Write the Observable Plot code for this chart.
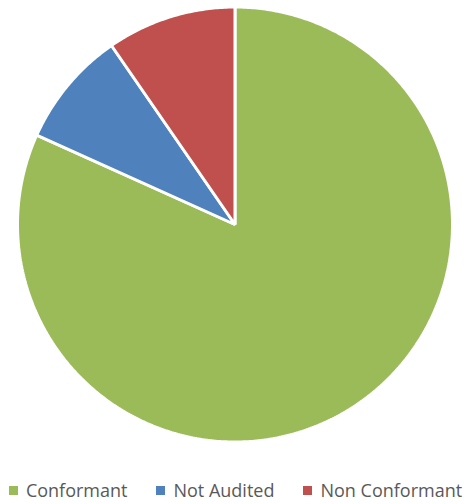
<!DOCTYPE html>
<html>
<head>
<meta charset="utf-8">
<script src="https://cdn.jsdelivr.net/npm/d3@7"></script>
<script src="https://cdn.jsdelivr.net/npm/@observablehq/plot@0.6"></script>
<style>
  html, body { margin: 0; padding: 0; background: #fff; }
  #chart > svg { display: block; }
  #chart > div {
    font-family: "Open Sans", sans-serif !important; font-size: 18px !important; color: #595959 !important;
    display: flex !important; align-items: center !important; justify-content: center !important;
    margin: 0 !important; min-height: 28px !important; height: 28px !important;
  }
  #chart > div > span { margin-right: 29px !important; display: inline-flex; align-items: center; }
  #chart > div > span:last-child { margin-right: 0 !important; }
  #chart > div > span > svg { margin-right: 8px !important; }
</style>
</head>
<body>
<div id="chart"></div>
<script>
const categories = ["Conformant", "Not Audited", "Non Conformant"];
const values = [85, 9, 10];
const colors = ["#9BBB59", "#4F81BD", "#C0504D"];

const arcs = d3.pie().sort(null).startAngle(0).endAngle(2 * Math.PI)(values);
const points = [];
arcs.forEach((a, i) => {
  const name = categories[i];
  points.push({name, x: 0, y: 0});
  const n = Math.max(2, Math.ceil((a.endAngle - a.startAngle) / 0.01));
  for (let k = 0; k <= n; ++k) {
    const t = a.startAngle + (a.endAngle - a.startAngle) * k / n;
    points.push({name, x: Math.sin(t), y: Math.cos(t)});
  }
});

const color = {domain: categories, range: colors};

const plot = Plot.plot({
  width: 471,
  height: 476,
  marginLeft: 17,
  marginRight: 19,
  marginTop: 6.5,
  marginBottom: 34.5,
  x: {domain: [-1, 1], axis: null},
  y: {domain: [-1, 1], axis: null},
  color,
  marks: [
    Plot.line(points, {
      x: "x", y: "y", z: "name", fill: "name",
      stroke: "white", strokeWidth: 3, strokeLinejoin: "miter",
      curve: "linear-closed"
    })
  ]
});

const legend = Plot.legend({color: {...color, legend: "swatches"}, swatchSize: 9});

const root = document.getElementById("chart");
root.appendChild(plot);
root.appendChild(legend);
</script>
</body>
</html>
